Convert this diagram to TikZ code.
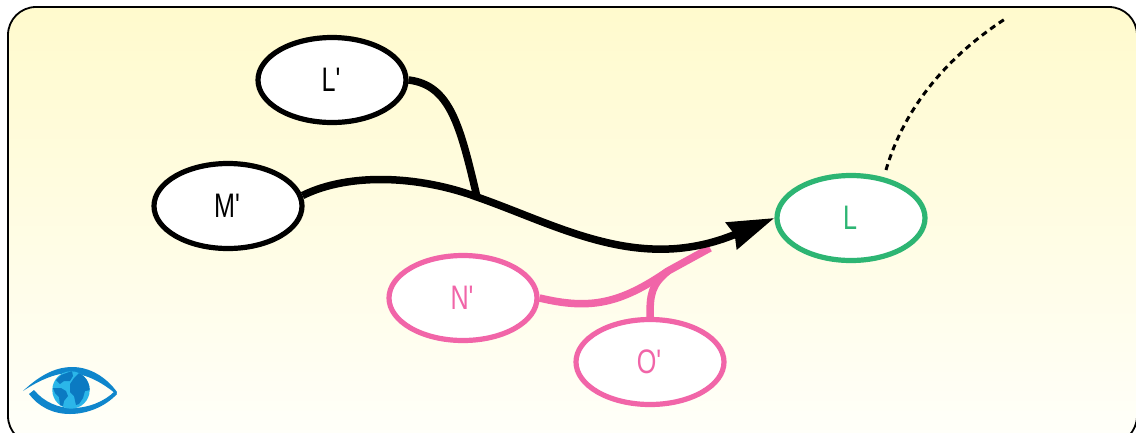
\documentclass[tikz,border=0pt]{standalone}
\usepackage{fontspec}
\setmainfont[FakeStretch=0.74,Ligatures=TeXOff]{Liberation Sans}
\usetikzlibrary{shapes.geometric,arrows.meta}
\definecolor{grn}{HTML}{2DB573}
\definecolor{pnk}{HTML}{F165A8}
\definecolor{lidblue}{HTML}{0F86CC}
\definecolor{globeblue}{HTML}{2BB6E9}
\definecolor{landblue}{HTML}{0B7AC2}
\newcommand{\lbl}[1]{\raisebox{-2pt}{#1}\kern2pt}
\tikzset{
  bub/.style={ellipse,draw=#1,text=#1,fill=white,line width=5.2pt,minimum width=148pt,minimum height=85pt,inner sep=0pt,font=\fontsize{34pt}{36pt}\selectfont},
  bub/.default=black,
  blk/.style={draw=black,line width=7.5pt},
  pk/.style={draw=pnk,line width=7.5pt},
  dsh/.style={draw=black,line width=3pt,dash pattern=on 6pt off 4.5pt},
  land/.style={fill=landblue,draw=none},
}
\begin{document}
\begin{tikzpicture}[x=1pt,y=-1pt]
\useasboundingbox (0,0) rectangle (1136,432);
\path[draw=black,line width=1.8pt,top color={rgb,255:red,255;green,250;blue,205},bottom color={rgb,255:red,255;green,255;blue,250},rounded corners=28pt]
  (8,7) rectangle (1137,444);
\coordinate (jblack) at (477,197);
\coordinate (jpink) at (668,271);
\coordinate (pinkend) at (710,248);
\coordinate (dA) at (886,170);
\coordinate (dB) at (1005,19);
\node[bub] (Lp) at (332,80) {\lbl{L'}};
\node[bub] (Mp) at (228,206) {\lbl{M'}};
\node[bub=pnk] (Np) at (463,298) {\lbl{N'}};
\node[bub=pnk] (Op) at (650,362) {\lbl{O'}};
\node[bub=grn] (L) at (851,218) {\lbl{L}};
\draw[pk] (Np.east) .. controls (590,310) and (620,304) .. (jpink) -- (pinkend);
\draw[pk] (Op.north) .. controls (650,295) and (651,285) .. (jpink);
\draw[blk] (Lp.east) .. controls (450,85) and (460,125) .. (jblack);
\draw[blk,-{Stealth[length=46pt,width=28pt,inset=3pt]}] (Mp.8) .. controls (350,172) and (420,176) .. (jblack)
   .. controls (560,226) and (640,274) .. (L.west);
\draw[dsh] (dA) .. controls (905,105) and (950,55) .. (dB);
% eye
\fill[lidblue] (23,391) .. controls (42,373) and (58,367) .. (72,367)
  .. controls (90,367) and (106,377) .. (117,392) -- (116,394) .. controls (104,384) and (88,374) .. (70,373)
  .. controls (55,373) and (38,381) .. cycle;
\fill[lidblue] (29,394) -- (34,390) .. controls (44,402) and (58,408) .. (72,408)
  .. controls (88,408) and (104,402) .. (115,391) -- (117,394) .. controls (106,406) and (88,414) .. (70,414)
  .. controls (52,414) and (38,406) .. cycle;
\fill[globeblue] (71,390) circle[radius=18.7pt];
\begin{scope}
\clip (71,390) circle[radius=18.7pt];
\fill[land] (56,380) -- (61,375) -- (72,371) -- (73,376) -- (70,381) -- (64,381) -- (60,384) -- cycle;
\fill[land] (53,388) -- (61,388) -- (66,391) -- (68,396) -- (64,401) -- (63,406) -- (60,405) -- (59,397) -- (55,393) -- cycle;
\fill[land] (70,384) -- (74,378) -- (80,372) -- (90,378) -- (91,390) -- (85,391) -- (83,398) -- (79,404) -- (76,405) -- (74,396) -- (70,392) -- cycle;
\end{scope}
\end{tikzpicture}
\end{document}
